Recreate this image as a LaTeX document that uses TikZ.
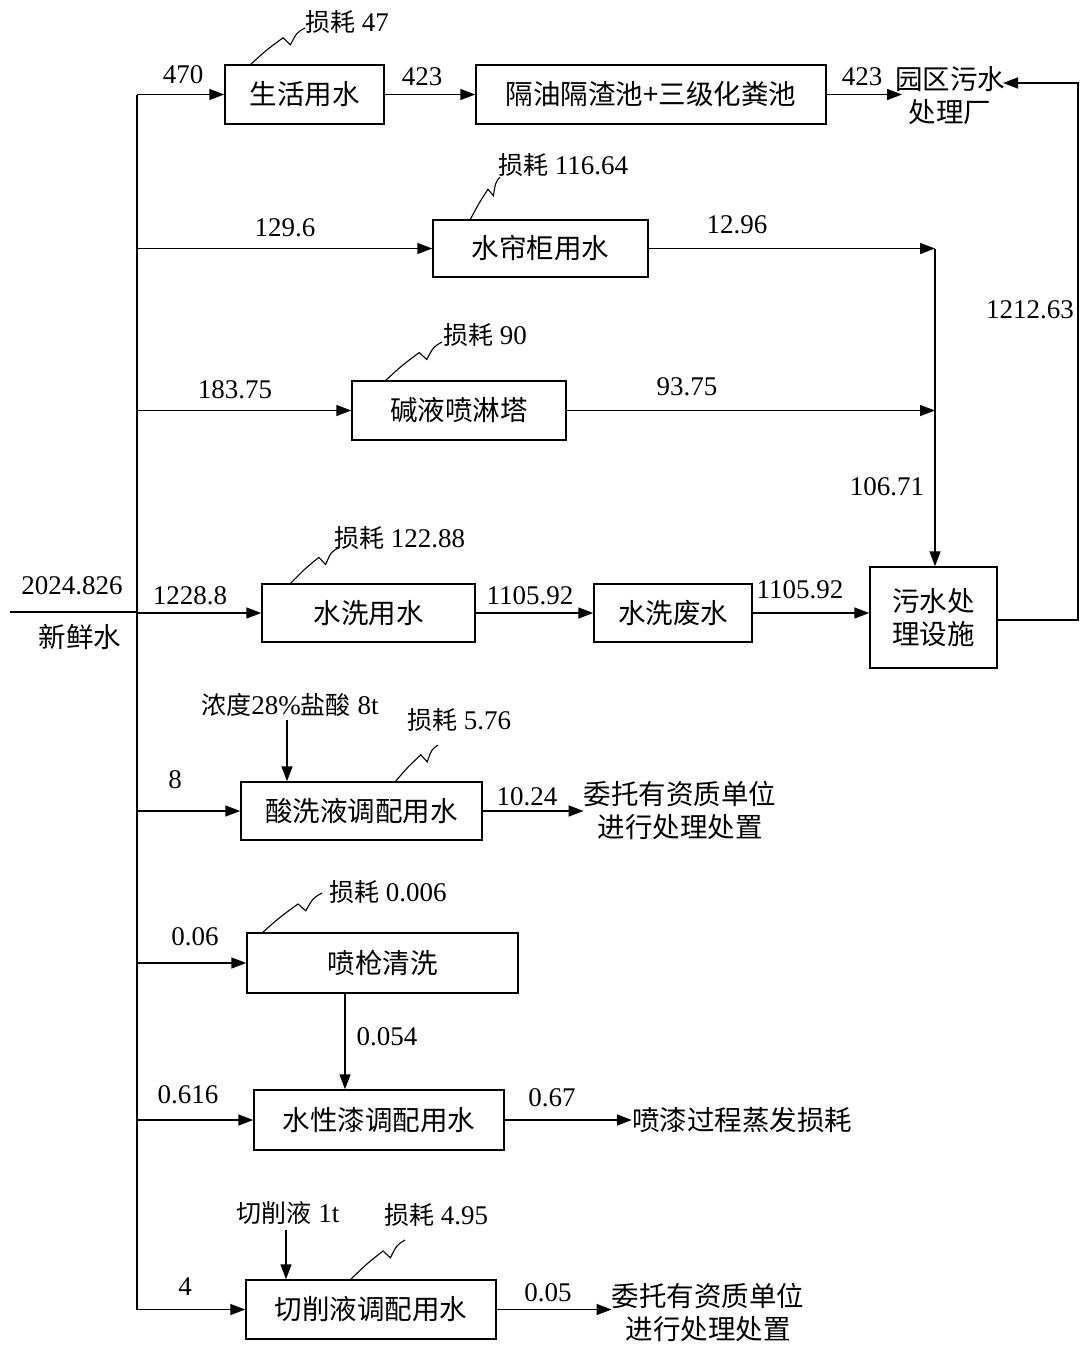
\documentclass[tikz,border=0pt]{standalone}
\usepackage{fontspec}
\setmainfont{Liberation Serif}
\newfontfamily\cjk{Noto Sans CJK SC}
\usetikzlibrary{arrows.meta,calc}
\newcommand\lossline[2]{\draw[lossln] (#1) .. controls ($(#1)!0.3!(#2)+(0,-4)$) .. ($(#1)!0.6!(#2)+(0,-5)$) -- ($(#1)!0.68!(#2)+(3,5)$) .. controls ($(#1)!0.85!(#2)+(0,-1)$) .. (#2);}
\begin{document}
\begin{tikzpicture}[x=1pt,y=-1pt,
  box/.style={draw, line width=1.5pt, inner sep=0, font=\cjk\fontsize{27.5}{33}\selectfont, align=center},
  ln/.style={line width=1.5pt},
  arr/.style={ln, -{Triangle[length=15pt,width=11pt]}},
  num/.style={font=\fontsize{27}{30}\selectfont, inner sep=0},
  cjt/.style={font=\cjk\fontsize{27.5}{33}\selectfont, inner sep=0, align=center},
  lossln/.style={line width=1.1pt}]
\useasboundingbox[fill=white] (0,0) rectangle (1083,1349);

% boxes
\node[box, minimum width=159, minimum height=59] (b1) at (304.5,94.5) {生活用水};
\node[box, minimum width=350, minimum height=59] (b2) at (651,94.5) {隔油隔渣池+三级化粪池};
\node[cjt] (park) at (950,96) {园区污水\\处理厂};
\node[box, minimum width=215, minimum height=57] (b3) at (540.5,248.5) {水帘柜用水};
\node[box, minimum width=214, minimum height=59] (b4) at (459,410.5) {碱液喷淋塔};
\node[box, minimum width=213, minimum height=58] (b5) at (368.5,613) {水洗用水};
\node[box, minimum width=158, minimum height=58] (b6) at (673,613) {水洗废水};
\node[box, minimum width=127, minimum height=101] (b7) at (933.5,617.5) {污水处\\理设施};
\node[box, minimum width=241, minimum height=58] (b8) at (361.5,811) {酸洗液调配用水};
\node[box, minimum width=271, minimum height=60] (b9) at (382.5,963) {喷枪清洗};
\node[box, minimum width=250, minimum height=60] (b10) at (379,1120) {水性漆调配用水};
\node[box, minimum width=250, minimum height=59] (b11) at (371,1309.5) {切削液调配用水};

\node[cjt] (dis1) at (680,810) {委托有资质单位\\进行处理处置};
\node[cjt] (evap) at (742,1120) {喷漆过程蒸发损耗};
\node[cjt] (dis2) at (708,1312) {委托有资质单位\\进行处理处置};
\node[cjt] (fresh) at (80,637) {新鲜水};
\node[num] (acid) at (290,705) {{\cjk\fontsize{25}{30}\selectfont 浓度}28\%{\cjk\fontsize{25}{30}\selectfont 盐酸} 8t};
\node[num] (cut) at (288,1213) {{\cjk\fontsize{25}{30}\selectfont 切削液} 1t};

% trunk
\coordinate (tt) at (137,94.5);
\coordinate (tb) at (137,1309.5);
\coordinate (fw) at (10,612);
\draw[ln] (tt) -- (tb);
\draw[ln] (fw) -- (fw -| tt);
\node[num] at (72,586) {2024.826};

% row 1
\draw[arr] (tt) -- (b1.west);
\node[num] at (183,75) {470};
\draw[arr] (b1.east) -- (b2.west);
\node[num] at (422,77) {423};
\coordinate (pin) at (902,94.5);
\draw[arr] (b2.east) -- (pin);
\node[num] at (862,77) {423};
\coordinate (pr) at (1003,83);
\coordinate (rr) at (1078,620);
\draw[arr] (b7.east |- rr) -- (rr) |- (pr);
\node[num] at (1030,310) {1212.63};

% row 2, 3
\coordinate (j1) at (935,248.5);
\coordinate (j2) at (935,410.5);
\draw[arr] (b3.west -| tt) -- (b3.west);
\node[num] at (285,228) {129.6};
\draw[arr] (b3.east) -- (j1);
\node[num] at (737,225) {12.96};
\draw[arr] (b4.west -| tt) -- (b4.west);
\node[num] at (235,390) {183.75};
\draw[arr] (b4.east) -- (j2);
\node[num] at (687,387) {93.75};
\draw[arr] (j1) -- (j1 |- b7.north);
\node[num] at (887,487) {106.71};

% row 4
\draw[arr] (b5.west -| tt) -- (b5.west);
\node[num] at (190,596) {1228.8};
\draw[arr] (b5.east) -- (b6.west);
\node[num] at (530,596) {1105.92};
\draw[arr] (b6.east) -- (b6.east -| b7.west);
\node[num] at (800,590) {1105.92};

% row 5
\draw[arr] (b8.west -| tt) -- (b8.west);
\node[num] at (175,780) {8};
\coordinate (ac) at (287,720);
\draw[arr] (ac) -- (ac |- b8.north);
\draw[arr] (b8.east) -- (b8.east -| dis1.west);
\node[num] at (527,797) {10.24};

% row 6,7
\draw[arr] (b9.west -| tt) -- (b9.west);
\node[num] at (195,937) {0.06};
\coordinate (sp) at (345,993);
\draw[arr] (sp) -- (sp |- b10.north);
\node[num] at (387,1037) {0.054};
\draw[arr] (b10.west -| tt) -- (b10.west);
\node[num] at (188,1095) {0.616};
\draw[arr] (b10.east) -- (evap.west);
\node[num] at (552,1098) {0.67};

% row 8
\draw[arr] (tb) -- (b11.west);
\node[num] at (185,1287) {4};
\coordinate (cu) at (286,1230);
\draw[arr] (cu) -- (cu |- b11.north);
\draw[arr] (b11.east) -- (b11.east -| dis2.west);
\node[num] at (548,1293) {0.05};

% losses
\coordinate (s1) at (250,65);   \coordinate (e1) at (305,28);
\coordinate (s3) at (470,220);  \coordinate (e3) at (500,177);
\coordinate (s4) at (385,381);  \coordinate (e4) at (442,342);
\coordinate (s5) at (290,584);  \coordinate (e5) at (338,548);
\coordinate (s8) at (395,782);  \coordinate (e8) at (438,745);
\coordinate (s9) at (262,933);  \coordinate (e9) at (322,893);
\coordinate (s11) at (350,1280); \coordinate (e11) at (405,1240);
\lossline{s1}{e1}
\lossline{s3}{e3}
\lossline{s4}{e4}
\lossline{s5}{e5}
\lossline{s8}{e8}
\lossline{s9}{e9}
\lossline{s11}{e11}
\node[num, anchor=west] at (305,22) {{\cjk\fontsize{25}{30}\selectfont 损耗} 47};
\node[num, anchor=west] at (498,165) {{\cjk\fontsize{25}{30}\selectfont 损耗} 116.64};
\node[num, anchor=west] at (443,335) {{\cjk\fontsize{25}{30}\selectfont 损耗} 90};
\node[num, anchor=west] at (334,538) {{\cjk\fontsize{25}{30}\selectfont 损耗} 122.88};
\node[num, anchor=west] at (407,720) {{\cjk\fontsize{25}{30}\selectfont 损耗} 5.76};
\node[num, anchor=west] at (329,892) {{\cjk\fontsize{25}{30}\selectfont 损耗} 0.006};
\node[num, anchor=west] at (384,1215) {{\cjk\fontsize{25}{30}\selectfont 损耗} 4.95};
\end{tikzpicture}
\end{document}
